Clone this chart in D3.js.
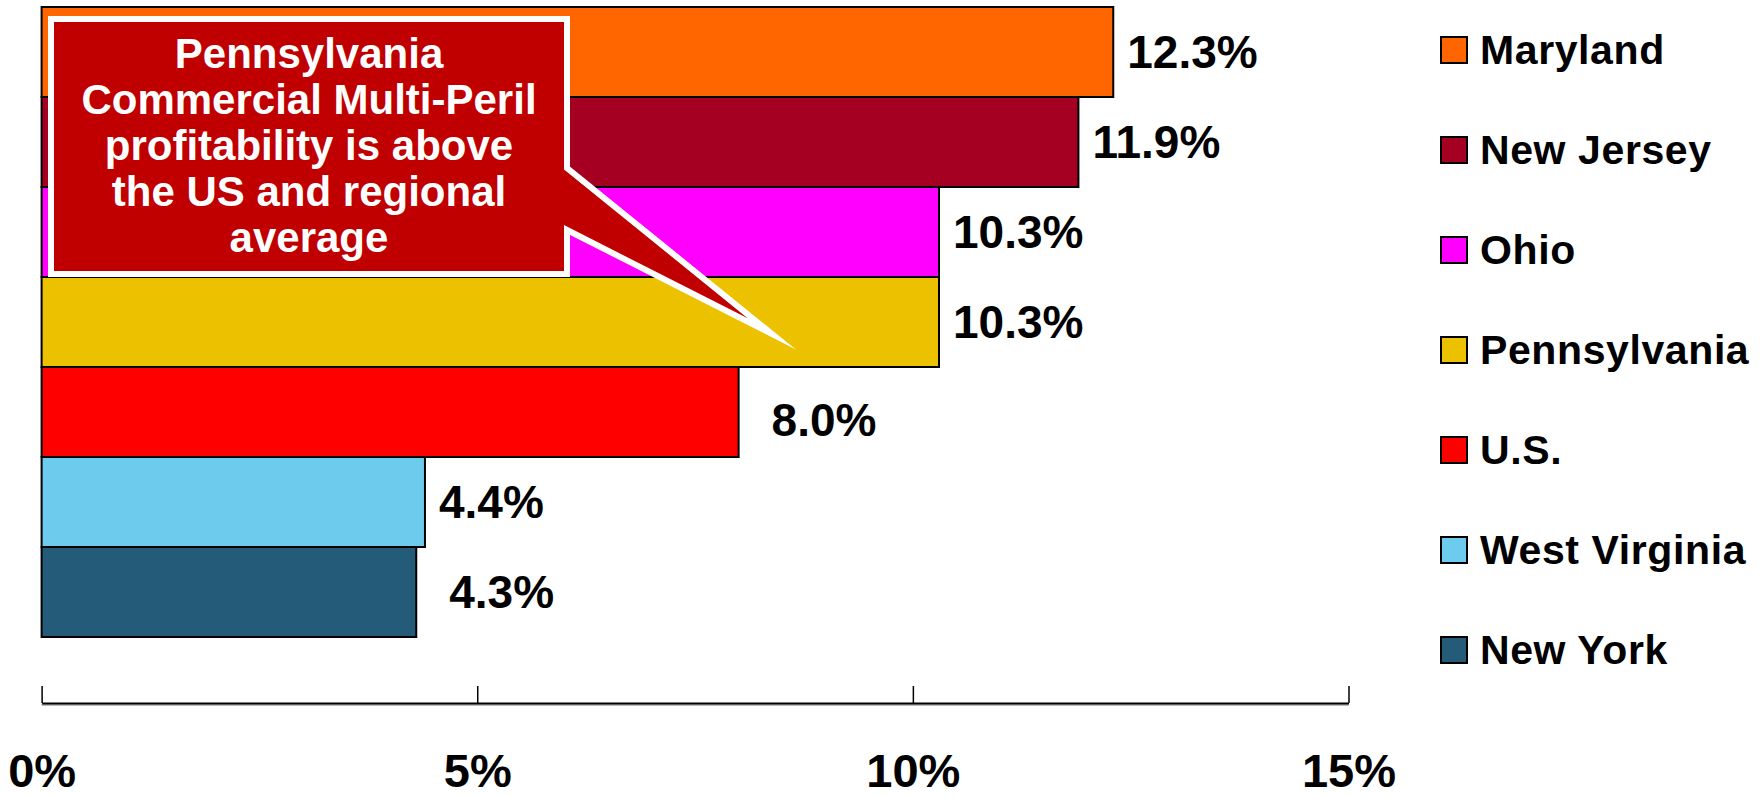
<!DOCTYPE html>
<html>
<head>
<meta charset="utf-8">
<script src="https://cdn.jsdelivr.net/npm/d3@7"></script>
<style>
  body { margin: 0; background: #ffffff; }
  text { font-family: "Liberation Sans", Arial, sans-serif; font-weight: bold; }
</style>
</head>
<body>
<div id="chart"></div>
<script>
// data
var states = ["Maryland", "New Jersey", "Ohio", "Pennsylvania", "U.S.", "West Virginia", "New York"];
var values = [12.3, 11.9, 10.3, 10.3, 8.0, 4.4, 4.3];
var colors = ["#FF6600", "#A50021", "#FF00FF", "#EBC100", "#FF0000", "#6DCBEE", "#235B79"];
var tickValues = [0, 5, 10, 15];
var calloutLines = ["Pennsylvania", "Commercial Multi-Peril", "profitability is above", "the US and regional", "average"];

// svg size
var svgWidth = 1762;
var svgHeight = 797;

var svg = d3.select("#chart")
    .append("svg")
    .attr("width", svgWidth)
    .attr("height", svgHeight);

// scales
var xScale = d3.scaleLinear()
    .domain([0, 15])
    .range([41.6, 1348.5]);

var yScale = d3.scaleBand()
    .domain(states)
    .range([7, 637])
    .padding(0);

var axisY = 703;

// bars
svg.append("g").selectAll("rect")
    .data(states)
    .enter()
    .append("rect")
    .attr("x", xScale(0))
    .attr("y", d => yScale(d))
    .attr("width", (d, i) => xScale(values[i]) - xScale(0))
    .attr("height", yScale.bandwidth())
    .attr("fill", (d, i) => colors[i])
    .attr("stroke", "#000")
    .attr("stroke-width", 2);

// value labels (a couple sit a bit further out, like the original)
var labelShift = { "U.S.": [19, 8], "New York": [19, 0] };

svg.append("g").selectAll("text")
    .data(states)
    .enter()
    .append("text")
    .attr("x", (d, i) => xScale(values[i]) + 14 + (labelShift[d] ? labelShift[d][0] : 0))
    .attr("y", d => yScale(d) + yScale.bandwidth() / 2 + 16 + (labelShift[d] ? labelShift[d][1] : 0))
    .attr("font-size", 46)
    .attr("fill", "#000")
    .text((d, i) => values[i].toFixed(1) + "%");

// x axis
var bottomAxis = d3.axisBottom(xScale)
    .tickValues(tickValues)
    .tickSizeInner(-17)
    .tickSizeOuter(0)
    .tickPadding(51)
    .tickFormat(d => d + "%");

// light shadow under the axis line
svg.append("line")
    .attr("x1", xScale(0))
    .attr("x2", xScale(15))
    .attr("y1", axisY + 2)
    .attr("y2", axisY + 2)
    .attr("stroke", "#bbbbbb")
    .attr("stroke-width", 2);

var axisG = svg.append("g")
    .attr("transform", `translate(0, ${axisY})`)
    .call(bottomAxis);

axisG.select(".domain")
    .attr("stroke", "#000")
    .attr("stroke-width", 2);

axisG.selectAll(".tick line")
    .attr("stroke", "#000")
    .attr("stroke-width", 1.5);

axisG.selectAll(".tick text")
    .attr("font-size", 47)
    .attr("font-family", "'Liberation Sans', Arial, sans-serif")
    .attr("font-weight", "bold")
    .attr("fill", "#000");

// legend
var legend = svg.append("g")
    .attr("transform", "translate(1441, 0)");

var legendRows = legend.selectAll("g")
    .data(states)
    .enter()
    .append("g")
    .attr("transform", (d, i) => `translate(0, ${50 + i * 100})`);

legendRows.append("rect")
    .attr("x", 0)
    .attr("y", -13)
    .attr("width", 26)
    .attr("height", 26)
    .attr("fill", (d, i) => colors[i])
    .attr("stroke", "#000")
    .attr("stroke-width", 2);

legendRows.append("text")
    .attr("x", 39)
    .attr("y", 14)
    .attr("font-size", 41)
    .attr("letter-spacing", 0.6)
    .attr("fill", "#000")
    .text(d => d);

// callout box with its pointer
var callout = svg.append("g");

callout.append("path")
    .attr("d", "M51,19 L567,19 L567,168 L772,334 L567,230 L567,274 L51,274 Z")
    .attr("fill", "#C00000")
    .attr("stroke", "#fff")
    .attr("stroke-width", 6)
    .attr("stroke-linejoin", "miter")
    .attr("stroke-miterlimit", 30);

callout.selectAll("text")
    .data(calloutLines)
    .enter()
    .append("text")
    .attr("x", 309)
    .attr("y", (d, i) => 68 + i * 46)
    .attr("text-anchor", "middle")
    .attr("font-size", 42)
    .attr("fill", "#fff")
    .text(d => d);
</script>
</body>
</html>
